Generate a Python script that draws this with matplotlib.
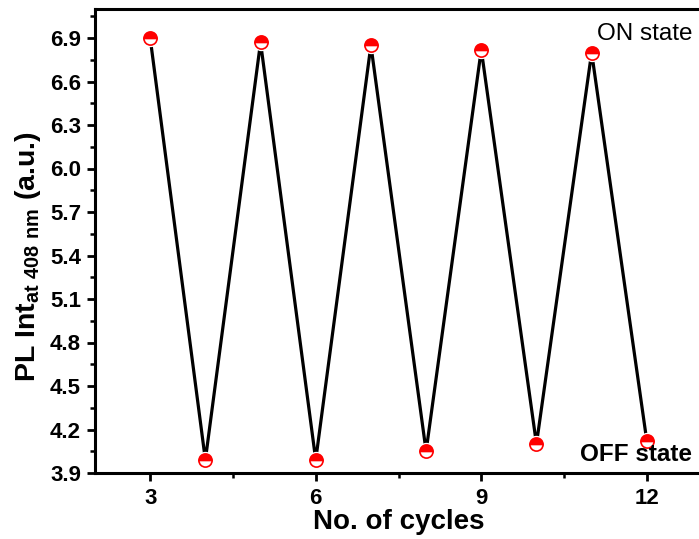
import matplotlib
matplotlib.use("Agg")
import matplotlib.pyplot as plt
from matplotlib.ticker import MultipleLocator

plt.rcParams['font.family'] = 'Liberation Sans'
plt.rcParams['mathtext.fontset'] = 'custom'
plt.rcParams['mathtext.rm'] = 'Liberation Sans:bold'
plt.rcParams['mathtext.bf'] = 'Liberation Sans:bold'

# data
cycles = [3, 4, 5, 6, 7, 8, 9, 10, 11, 12]
pl_int = [6.90, 3.99, 6.87, 3.99, 6.85, 4.05, 6.82, 4.10, 6.80, 4.12]

fig = plt.figure(figsize=(6.99, 5.39), dpi=100)
ax = fig.add_axes([95 / 699, 1 - 473 / 539, 607 / 699, 464 / 539])

ax.plot(cycles, pl_int, color='black', lw=2.3, zorder=2)
# white halo so the line stops just short of each symbol (Origin style gap)
ax.plot(cycles, pl_int, ls='none', marker='o', markersize=12.5, color='white',
        markeredgewidth=0, zorder=2.5)
ax.plot(cycles, pl_int, ls='none', marker='o', markersize=9.5, fillstyle='top',
        markerfacecolor='red', markerfacecoloralt='white', markeredgecolor='red',
        markeredgewidth=1.2, zorder=3)

ax.set_xlim(2, 13)
ax.set_ylim(3.9, 7.1)
ax.xaxis.set_major_locator(MultipleLocator(3))
ax.xaxis.set_minor_locator(MultipleLocator(1.5))
ax.yaxis.set_major_locator(MultipleLocator(0.3))
ax.yaxis.set_minor_locator(MultipleLocator(0.15))
ax.yaxis.set_major_formatter(plt.FormatStrFormatter('%.1f'))

for s in ax.spines.values():
    s.set_linewidth(2.2)
ax.tick_params(which='major', direction='out', length=6, width=2, labelsize=16)
ax.tick_params(axis='x', which='major', pad=5)
ax.tick_params(axis='y', which='major', pad=4)
ax.tick_params(which='minor', direction='out', length=3.5, width=1.8)
for lbl in ax.get_xticklabels() + ax.get_yticklabels():
    lbl.set_fontweight('bold')

ax.set_xlabel('No. of cycles', fontsize=20, fontweight='bold', labelpad=0)
ax.set_ylabel(r'PL Int$_{\mathrm{at\ 408\ nm}}$ (a.u.)', fontsize=20.5,
              fontweight='bold')
ax.yaxis.set_label_coords(-0.085, 0.466)

ax.text(12.82, 6.93, 'ON state', fontsize=17.5, ha='right', va='center')
ax.text(12.82, 4.03, 'OFF state', fontsize=17.5, fontweight='bold', ha='right', va='center')

fig.savefig('out.png', dpi=100)
